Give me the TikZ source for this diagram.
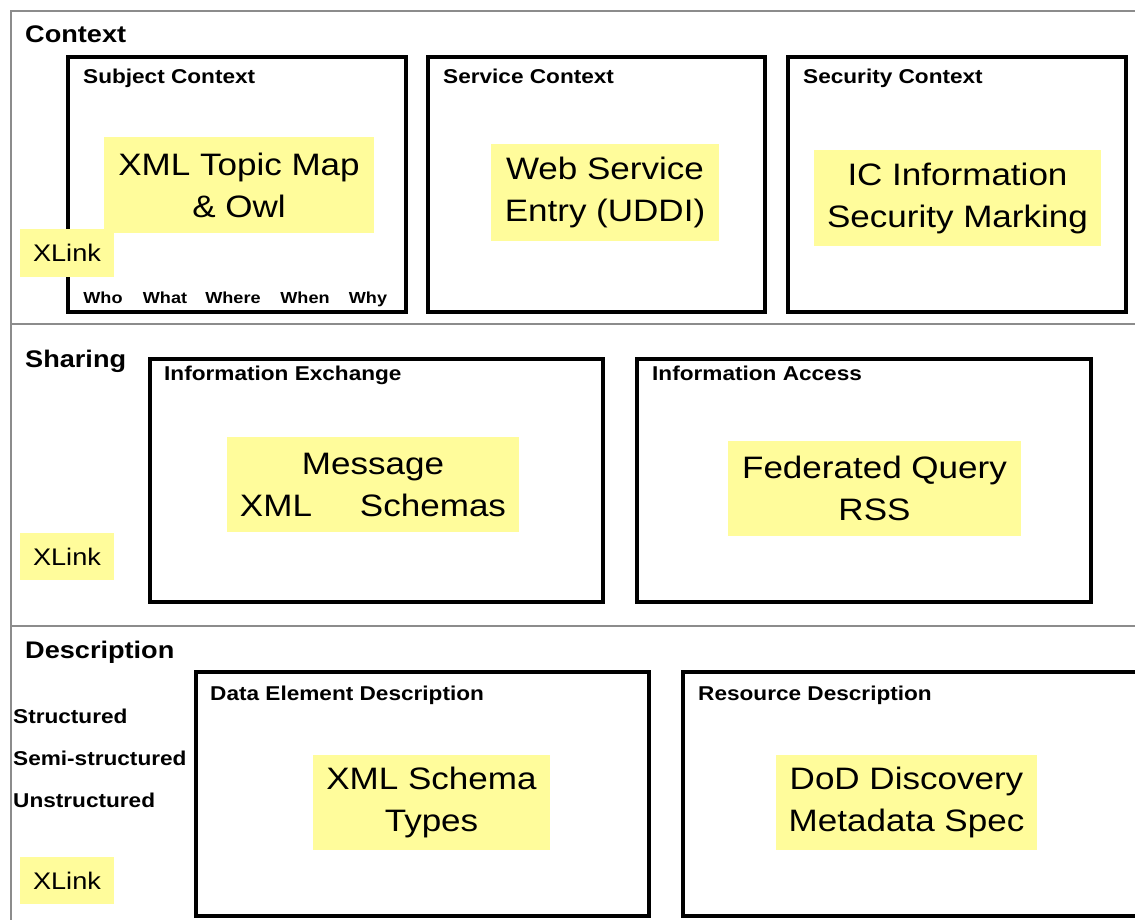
\documentclass[tikz,border=0pt]{standalone}
\usepackage{fontspec}
\setmainfont[FakeStretch=1.13]{Liberation Sans}
\definecolor{note}{RGB}{255,252,155}
\definecolor{frame}{RGB}{140,140,140}
\begin{document}
\begin{tikzpicture}[x=1pt,y=-1pt,
  bigbox/.style={draw=black,line width=3.5pt,anchor=north west,inner sep=0pt,outer sep=0pt},
  ybox/.style={fill=note,inner sep=0pt,align=center,font=\fontsize{31}{42}\selectfont},
  xlink/.style={fill=note,inner sep=0pt,minimum width=94pt,minimum height=47pt,font=\fontsize{24}{28}\selectfont},
  sect/.style={anchor=base west,inner sep=0pt,font=\fontsize{24}{28}\bfseries},
  lab/.style={anchor=base west,inner sep=0pt,font=\fontsize{20}{24}\bfseries},
  small/.style={anchor=base,inner sep=0pt,font=\fontsize{16}{20}\bfseries}]
\useasboundingbox (0,0) rectangle (1135,920);
\clip (0,0) rectangle (1135,920);
\fill[white] (0,0) rectangle (1135,920);
% outer frame
\draw[frame,line width=2pt] (11,920) -- (11,11) -- (1140,11);
\draw[frame,line width=2pt] (11,324) -- (1140,324);
\draw[frame,line width=2pt] (11,626) -- (1140,626);
% section titles
\node[sect] (tctx) at (25,43) {Context};
\node[sect] (tsh) at (25,367) {Sharing};
\node[sect] (tdesc) at (25,658) {Description};
% Context boxes
\node[bigbox,minimum width=338pt,minimum height=255pt] (subj) at (68,57) {};
\node[bigbox,minimum width=337pt,minimum height=255pt] (serv) at (428,57) {};
\node[bigbox,minimum width=338pt,minimum height=255pt] (secu) at (788,57) {};
\node[lab] (lsubj) at (83,84) {Subject Context};
\node[lab] (lserv) at (443,84) {Service Context};
\node[lab] (lsecu) at (803,84) {Security Context};
\node[ybox,minimum width=270pt,minimum height=96pt] (topic) at (239,185) {XML Topic Map\\\& Owl};
\node[ybox,minimum width=228pt,minimum height=97pt] (uddi) at (605,192.5) {Web Service\\Entry (UDDI)};
\node[ybox,minimum width=287pt,minimum height=96pt] (ic) at (957.5,198) {IC Information\\Security Marking};
\node[xlink] (xl1) at (67,253) {XLink};
\node[small] (who) at (103,303) {Who};
\node[small] (what) at (165,303) {What};
\node[small] (where) at (233,303) {Where};
\node[small] (when) at (305,303) {When};
\node[small] (why) at (368,303) {Why};
% Sharing boxes
\node[bigbox,minimum width=453pt,minimum height=243pt] (iex) at (150,359) {};
\node[bigbox,minimum width=454pt,minimum height=243pt] (iac) at (637,359) {};
\node[lab] (liex) at (164,380) {Information Exchange};
\node[lab] (liac) at (652,380) {Information Access};
\node[ybox,minimum width=292pt,minimum height=95pt] (msg) at (373,484.5) {Message\\XML\hspace{48pt}Schemas};
\node[ybox,minimum width=293pt,minimum height=95pt] (fed) at (874.5,488.5) {Federated Query\\RSS};
\node[xlink] (xl2) at (67,556.5) {XLink};
% Description boxes
\node[bigbox,minimum width=453pt,minimum height=244pt] (dde) at (196,672) {};
\node[bigbox,minimum width=460pt,minimum height=244pt] (res) at (683,672) {};
\node[lab] (ldde) at (210,700) {Data Element Description};
\node[lab] (lres) at (698,700) {Resource Description};
\node[lab] (st1) at (13,723) {Structured};
\node[lab] (st2) at (13,765) {Semi-structured};
\node[lab] (st3) at (13,807) {Unstructured};
\node[ybox,minimum width=237pt,minimum height=95pt] (xst) at (431.5,802.5) {XML Schema\\Types};
\node[ybox,minimum width=261pt,minimum height=95pt] (dod) at (906.5,802.5) {DoD Discovery\\Metadata Spec};
\node[xlink] (xl3) at (67,880.5) {XLink};
\end{tikzpicture}
\end{document}
